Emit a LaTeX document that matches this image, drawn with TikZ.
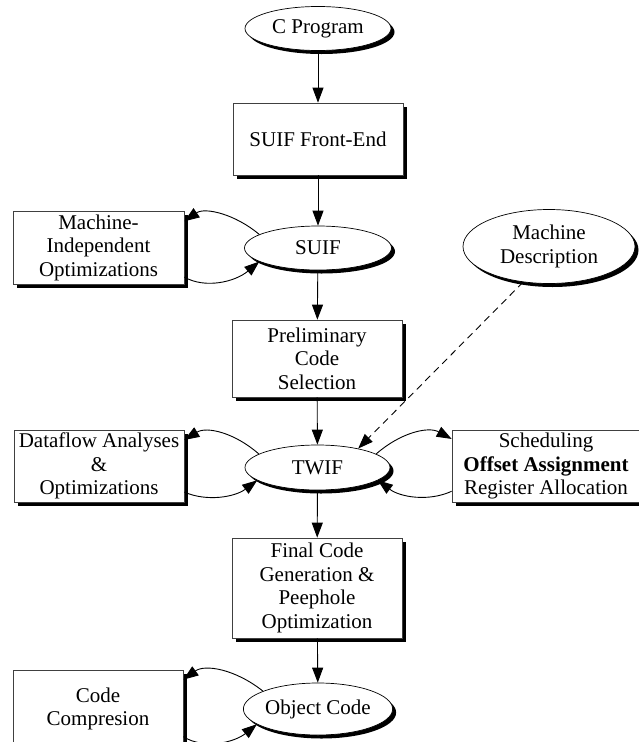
\documentclass[tikz,border=0pt]{standalone}
\usepackage{fontspec}
\setmainfont{Liberation Serif}
\usetikzlibrary{arrows.meta,shadows,shapes.geometric}
\begin{document}
\begin{tikzpicture}[x=1pt,y=-1pt,
  every node/.style={font=\fontsize{21}{23.5}\selectfont, align=center, inner sep=0pt},
  shade3/.style={drop shadow={shadow xshift=3.5pt, shadow yshift=-3.5pt, fill=black, opacity=1}},
  boxnode/.style={rectangle, draw=black!75, line width=0.7pt, fill=white, shade3},
  ovalnode/.style={ellipse, draw=black, line width=0.7pt, fill=white, shade3},
  arr/.style={-{Triangle[length=15pt,width=11pt]}, line width=0.9pt},
  dasharr/.style={arr, dash pattern=on 7pt off 5pt}]
\useasboundingbox (0,0) rectangle (639,742);

% main column
\node[ovalnode, minimum width=146pt, minimum height=44pt] (cprog) at (318,28.5) {C Program};
\node[boxnode, minimum width=170pt, minimum height=72pt] (fe) at (318,139) {SUIF Front-End};
\node[ovalnode, minimum width=147pt, minimum height=44pt] (suif) at (318,248) {SUIF};
\node[boxnode, minimum width=170pt, minimum height=77pt] (pcs) at (317,358.5) {Preliminary\\Code\\Selection};
\node[ovalnode, minimum width=145pt, minimum height=45pt] (twif) at (317.5,467.5) {TWIF};
\node[boxnode, minimum width=170pt, minimum height=100pt] (fin) at (317,588) {Final Code\\Generation \&\\Peephole\\Optimization};
\node[ovalnode, minimum width=146pt, minimum height=52pt] (obj) at (318,709) {Object Code};

% side passes
\node[boxnode, minimum width=171pt, minimum height=73pt] (mi) at (98.5,247.5) {Machine-\\Independent\\Optimizations};
\node[ovalnode, minimum width=172pt, minimum height=74pt] (md) at (549,246.5) {Machine\\Description};
\node[boxnode, minimum width=170pt, minimum height=72pt] (df) at (99,466) {Dataflow Analyses\\\&\\Optimizations};
\node[boxnode, minimum width=188pt, minimum height=72pt] (sch) at (546,466) {Scheduling\\\textbf{Offset Assignment}\\Register Allocation};
\node[boxnode, minimum width=170pt, minimum height=78pt] (cc) at (98,709) {Code\\Compresion};

% flow down the column
\draw[arr] (cprog) -- (fe);
\draw[arr] (fe) -- (suif);
\draw[arr] (suif) -- (pcs);
\draw[arr] (pcs) -- (twif);
\draw[arr] (twif) -- (fin);
\draw[arr] (fin) -- (obj);

% machine description feeds TWIF
\draw[dasharr] (md.234) -- (twif.25);

% round trips through the optimisation passes
\draw[arr] (suif.167) .. controls (235,214) and (205,207) .. (mi.17);
\draw[arr] (mi.-19) .. controls (205,289) and (235,282) .. (suif.193);

\draw[arr] (twif.167) .. controls (235,433) and (207,426) .. (df.17);
\draw[arr] (df.-17) .. controls (207,502) and (235,497) .. (twif.192);

\draw[arr] (twif.13) .. controls (400,433) and (428,426) .. (sch.164);
\draw[arr] (sch.195) .. controls (428,502) and (400,497) .. (twif.348);

\draw[arr] (obj.162) .. controls (235,669) and (205,664) .. (cc.19);
\draw[arr] (cc.-18) .. controls (205,750) and (235,742) .. (obj.194);
\end{tikzpicture}
\end{document}
